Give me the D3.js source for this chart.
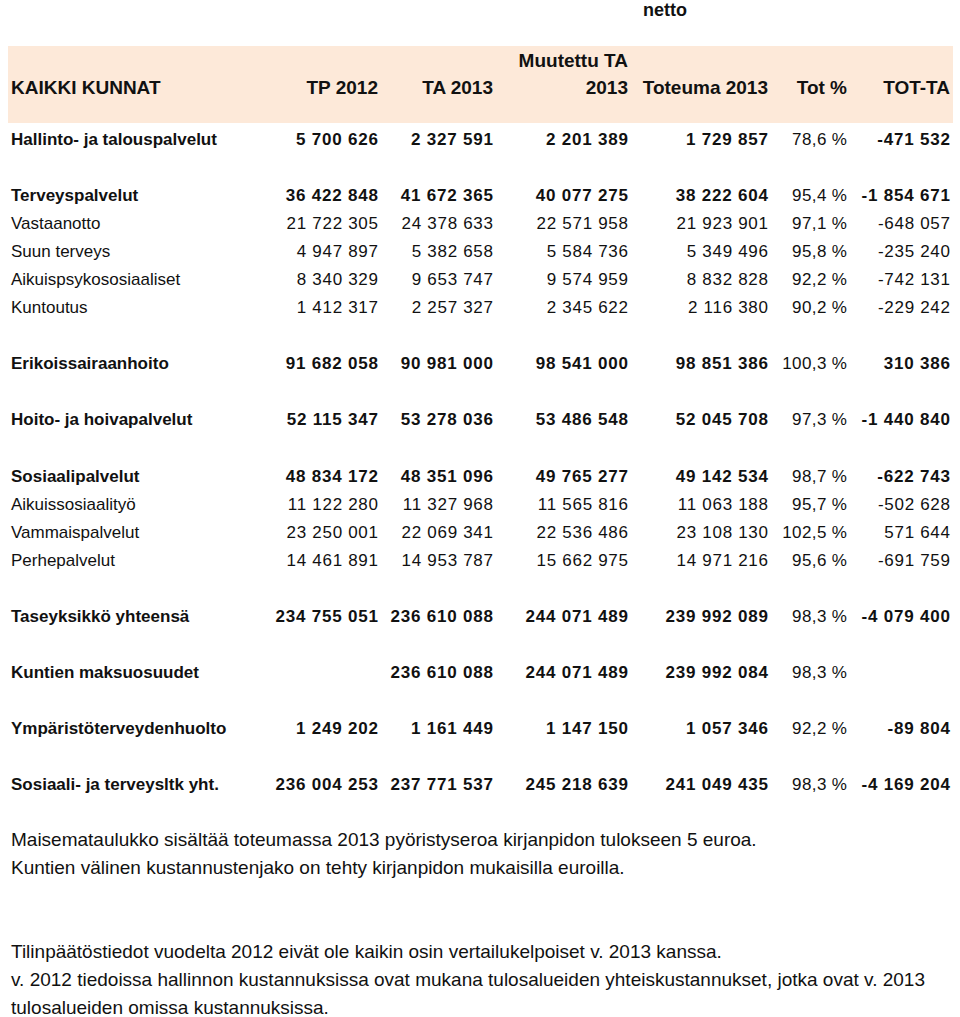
<!DOCTYPE html>
<html><head><meta charset="utf-8">
<script src="https://cdn.jsdelivr.net/npm/d3@7"></script>
<style>
body{margin:0;background:#fff;}
svg{display:block;}
</style></head>
<body>
<script>
// ---- data ----
const title = "netto";
const tableName = "KAIKKI KUNNAT";
const columnHeads = ["TP 2012", "TA 2013", "Muutettu TA|2013", "Toteuma 2013", "Tot %", "TOT-TA"];
// "" = empty spacer row
const rowLabels = ["Hallinto- ja talouspalvelut", "", "Terveyspalvelut", "Vastaanotto", "Suun terveys",
  "Aikuispsykososiaaliset", "Kuntoutus", "", "Erikoissairaanhoito", "", "Hoito- ja hoivapalvelut", "",
  "Sosiaalipalvelut", "Aikuissosiaalityö", "Vammaispalvelut", "Perhepalvelut", "", "Taseyksikkö yhteensä", "",
  "Kuntien maksuosuudet", "", "Ympäristöterveydenhuolto", "", "Sosiaali- ja terveysltk yht."];
const rowIsTotal = [1,0,1,0,0,0,0,0,1,0,1,0,1,0,0,0,0,1,0,1,0,1,0,1];
const tp2012 = [5700626,null,36422848,21722305,4947897,8340329,1412317,null,91682058,null,52115347,null,
  48834172,11122280,23250001,14461891,null,234755051,null,null,null,1249202,null,236004253];
const ta2013 = [2327591,null,41672365,24378633,5382658,9653747,2257327,null,90981000,null,53278036,null,
  48351096,11327968,22069341,14953787,null,236610088,null,236610088,null,1161449,null,237771537];
const muutettuTa2013 = [2201389,null,40077275,22571958,5584736,9574959,2345622,null,98541000,null,53486548,null,
  49765277,11565816,22536486,15662975,null,244071489,null,244071489,null,1147150,null,245218639];
const toteuma2013 = [1729857,null,38222604,21923901,5349496,8832828,2116380,null,98851386,null,52045708,null,
  49142534,11063188,23108130,14971216,null,239992089,null,239992084,null,1057346,null,241049435];
const totPct = [78.6,null,95.4,97.1,95.8,92.2,90.2,null,100.3,null,97.3,null,
  98.7,95.7,102.5,95.6,null,98.3,null,98.3,null,92.2,null,98.3];
const totTa = [-471532,null,-1854671,-648057,-235240,-742131,-229242,null,310386,null,-1440840,null,
  -622743,-502628,571644,-691759,null,-4079400,null,null,null,-89804,null,-4169204];
const notes = [
  "Maisemataulukko sisältää toteumassa 2013 pyöristyseroa kirjanpidon tulokseen 5 euroa.",
  "Kuntien välinen kustannustenjako on tehty kirjanpidon mukaisilla euroilla.",
  "",
  "",
  "Tilinpäätöstiedot vuodelta 2012 eivät ole kaikin osin vertailukelpoiset v. 2013 kanssa.",
  "v. 2012 tiedoissa hallinnon kustannuksissa ovat mukana tulosalueiden yhteiskustannukset, jotka ovat v. 2013",
  "tulosalueiden omissa kustannuksissa."
];

// ---- layout ----
const W = 960, H = 1017;
const svg = d3.select("body").append("svg").attr("width", W).attr("height", H);
const bodyFont = "'Liberation Sans', Arial, sans-serif";

const fi = d3.formatLocale({decimal: ",", thousands: "\u2009", grouping: [3], currency: ["", " €"], minus: "-"});
const fmtInt = v => fi.format(",d")(v).replace(/\u2009/g, " ");
const fmtPct = v => fi.format(".1f")(v) + " %";

// header band
svg.append("rect").attr("x", 8).attr("y", 46).attr("width", 945).attr("height", 77).attr("fill", "#fde9d9");

svg.append("text").attr("x", 665).attr("y", 16).attr("text-anchor", "middle")
  .attr("font-family", bodyFont).attr("font-size", 18).attr("font-weight", "bold").attr("fill", "#111")
  .text(title);

const colRight = [378, 493, 628, 768, 847, 950];
const colX = d3.scaleOrdinal().domain(columnHeads).range(colRight);

svg.append("text").attr("x", 11).attr("y", 94)
  .attr("font-family", bodyFont).attr("font-size", 19).attr("font-weight", "bold").attr("fill", "#111")
  .text(tableName);

columnHeads.forEach(h => {
  const parts = h.split("|");
  parts.forEach((p, i) => {
    const dy = parts.length === 2 ? (i === 0 ? 67 : 94) : 94;
    svg.append("text").attr("x", colX(h)).attr("y", dy).attr("text-anchor", "end")
      .attr("font-family", bodyFont).attr("font-size", 19).attr("font-weight", "bold").attr("fill", "#111")
      .text(p);
  });
});

// rows
const y = d3.scaleLinear().domain([0, rowLabels.length - 1]).range([139, 784]);
const seriesCols = [tp2012, ta2013, muutettuTa2013, toteuma2013, totPct, totTa];

rowLabels.forEach((lab, i) => {
  if (!lab) return;
  const bold = rowIsTotal[i] === 1;
  const g = svg.append("g").attr("transform", `translate(0,${y(i) + 6})`)
    .attr("font-family", bodyFont).attr("font-size", 17).attr("fill", "#111");
  g.append("text").attr("x", 11).attr("font-weight", bold ? "bold" : "normal").text(lab);
  seriesCols.forEach((arr, c) => {
    const v = arr[i];
    if (v === null || v === undefined) return;
    const isPct = c === 4;
    const ls = isPct ? 0.4 : (bold ? 0.8 : 0.7);
    g.append("text").attr("x", colRight[c] + ls).attr("text-anchor", "end")
      .attr("letter-spacing", ls)
      .attr("font-weight", bold && !isPct ? "bold" : "normal")
      .text(isPct ? fmtPct(v) : fmtInt(v));
  });
});

// notes
const ny = d3.scaleLinear().domain([0, notes.length - 1]).range([840, 1008]);
notes.forEach((n, i) => {
  if (!n) return;
  svg.append("text").attr("x", 11).attr("y", ny(i) + 6)
    .attr("font-family", bodyFont).attr("font-size", 19).attr("fill", "#111").text(n);
});
</script>
</body></html>
